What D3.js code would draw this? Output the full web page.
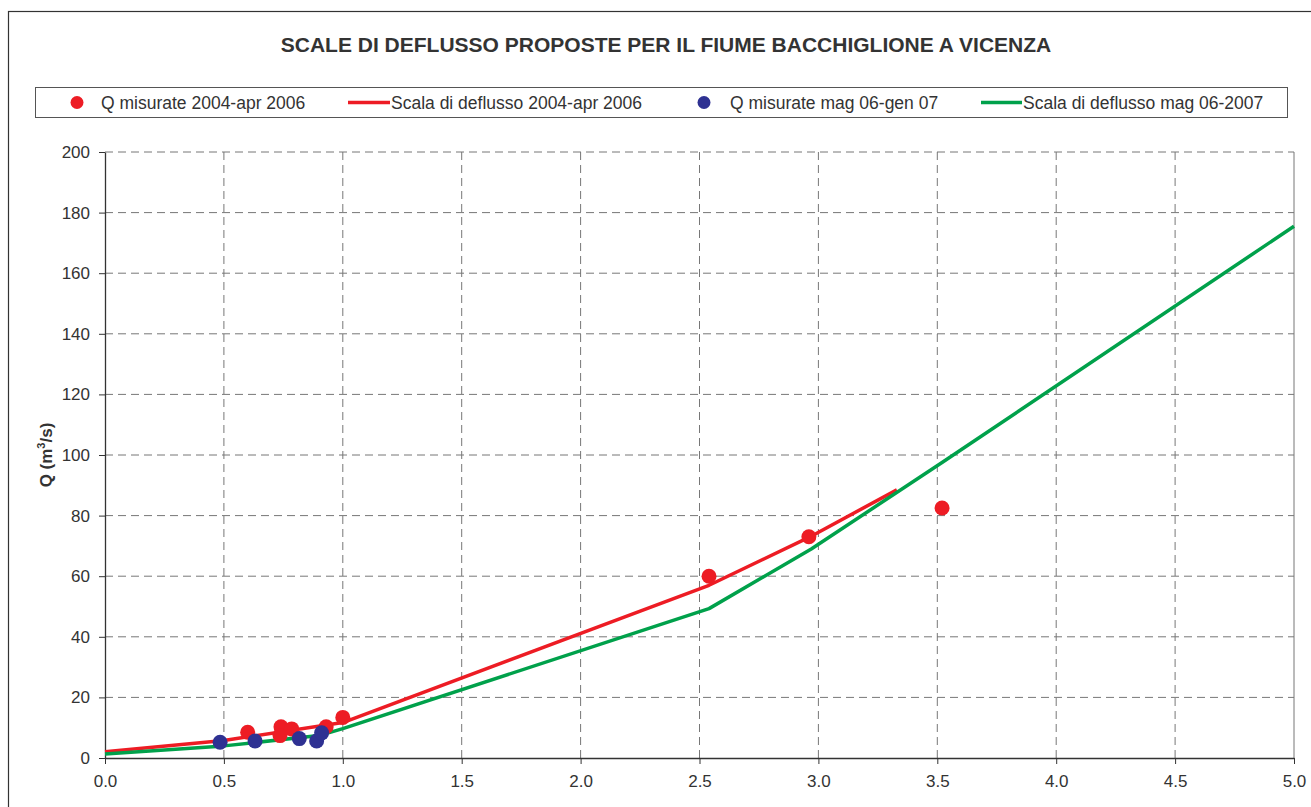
<!DOCTYPE html>
<html>
<head>
<meta charset="utf-8">
<script src="https://cdn.jsdelivr.net/npm/d3@7"></script>
<style>
  html, body { margin: 0; padding: 0; background: #fff; }
  svg { display: block; font-family: "Liberation Sans", Arial, sans-serif; }
</style>
</head>
<body>
<svg id="chart" width="1311" height="807"></svg>
<script>
// Measured discharges, 2004 – April 2006 (stage h [m], discharge Q [m3/s])
const redH = [0.60, 0.74, 0.785, 0.736, 0.93, 1.00, 2.54, 2.96, 3.52];
const redQ = [8.5, 10.3, 9.6, 7.4, 10.3, 13.4, 60.0, 73.0, 82.5];

// Measured discharges, May 2006 – January 2007
const blueH = [0.484, 0.631, 0.817, 0.890, 0.911];
const blueQ = [5.2, 5.6, 6.4, 5.6, 8.3];

// Rating curve 2004 – April 2006
const redCurveH = [0.0, 0.5, 1.0, 2.54, 2.96, 3.33];
const redCurveQ = [2.1, 5.8, 11.7, 57.0, 72.8, 88.5];

// Rating curve May 2006 – 2007
const greenCurveH = [0.0, 0.5, 0.9, 1.0, 2.54, 2.97, 3.52, 5.0];
const greenCurveQ = [1.3, 4.0, 7.4, 9.7, 49.3, 69.0, 97.5, 175.5];

const xTicks = [0.0, 0.5, 1.0, 1.5, 2.0, 2.5, 3.0, 3.5, 4.0, 4.5, 5.0];
const yTicks = [0, 20, 40, 60, 80, 100, 120, 140, 160, 180, 200];

const titleText = "SCALE DI DEFLUSSO PROPOSTE PER IL FIUME BACCHIGLIONE A VICENZA";
const legendLabels = [
  "Q misurate 2004-apr 2006",
  "Scala di deflusso 2004-apr 2006",
  "Q misurate mag 06-gen 07",
  "Scala di deflusso mag 06-2007"
];

const RED = "#ed1c24", BLUE = "#2e3192", GREEN = "#00a14b";
const TXT = "#333";

const svg = d3.select("#chart");

// outer chart frame
svg.append("rect")
  .attr("x", 8.5).attr("y", 11.5)
  .attr("width", 1320).attr("height", 820)
  .attr("fill", "none").attr("stroke", "#333").attr("stroke-width", 1.2);

// title
svg.append("text")
  .attr("x", 666).attr("y", 52)
  .attr("text-anchor", "middle")
  .attr("font-size", 21).attr("font-weight", "bold")
  .attr("fill", TXT)
  .text(titleText);

// plot area
const plot = { left: 105, right: 1294, top: 152, bottom: 758 };
const x = d3.scaleLinear().domain([0, 5]).range([plot.left, plot.right]);
const y = d3.scaleLinear().domain([0, 200]).range([plot.bottom, plot.top]);

// grid
const grid = svg.append("g");
grid.selectAll("line.gx").data(xTicks.slice(1, -1)).join("line")
  .attr("x1", d => x(d)).attr("x2", d => x(d))
  .attr("y1", plot.top).attr("y2", plot.bottom)
  .attr("stroke", "#777").attr("stroke-width", 1).attr("stroke-dasharray", "8,5");
grid.selectAll("line.gy").data(yTicks.slice(1)).join("line")
  .attr("x1", plot.left).attr("x2", plot.right)
  .attr("y1", d => y(d)).attr("y2", d => y(d))
  .attr("stroke", "#777").attr("stroke-width", 1).attr("stroke-dasharray", "8,5");

// right border of plot area
svg.append("line")
  .attr("x1", plot.right).attr("x2", plot.right)
  .attr("y1", plot.top).attr("y2", plot.bottom)
  .attr("stroke", "#777").attr("stroke-width", 1);

// axes
const xAxis = d3.axisBottom(x).tickValues(xTicks).tickFormat(d3.format(".1f"))
  .tickSizeInner(6).tickSizeOuter(0).tickPadding(11);
const yAxis = d3.axisLeft(y).tickValues(yTicks).tickFormat(d3.format("d"))
  .tickSizeInner(6).tickSizeOuter(0).tickPadding(9);

const gx = svg.append("g").attr("transform", `translate(0,${plot.bottom})`).call(xAxis);
const gy = svg.append("g").attr("transform", `translate(${plot.left},0)`).call(yAxis);
[gx, gy].forEach(g => {
  g.select(".domain").attr("stroke", "#333").attr("stroke-width", 1.3);
  g.selectAll(".tick line").attr("stroke", "#333");
  g.selectAll(".tick text").attr("fill", TXT).attr("font-size", 17)
    .attr("font-family", "'Liberation Sans', Arial, sans-serif");
});

// y axis title
const yTitle = svg.append("text")
  .attr("transform", "translate(52,455) rotate(-90)")
  .attr("text-anchor", "middle")
  .attr("font-size", 17).attr("font-weight", "bold").attr("fill", TXT);
yTitle.append("tspan").text("Q (m");
yTitle.append("tspan").attr("dy", -7).attr("font-size", 11).text("3");
yTitle.append("tspan").attr("dy", 7).text("/s)");

// rating curves
const line = d3.line().x(d => x(d[0])).y(d => y(d[1]));
const redCurve = redCurveH.map((h, i) => [h, redCurveQ[i]]);
const greenCurve = greenCurveH.map((h, i) => [h, greenCurveQ[i]]);

svg.append("path").datum(redCurve).attr("d", line)
  .attr("fill", "none").attr("stroke", RED).attr("stroke-width", 3.5)
  .attr("stroke-linejoin", "round");
svg.append("path").datum(greenCurve).attr("d", line)
  .attr("fill", "none").attr("stroke", GREEN).attr("stroke-width", 3.5)
  .attr("stroke-linejoin", "round");

// measured points
svg.append("g").selectAll("circle")
  .data(redH.map((h, i) => [h, redQ[i]])).join("circle")
  .attr("cx", d => x(d[0])).attr("cy", d => y(d[1])).attr("r", 7.5)
  .attr("fill", RED);
svg.append("g").selectAll("circle")
  .data(blueH.map((h, i) => [h, blueQ[i]])).join("circle")
  .attr("cx", d => x(d[0])).attr("cy", d => y(d[1])).attr("r", 7.5)
  .attr("fill", BLUE);

// legend
const lg = svg.append("g");
lg.append("rect")
  .attr("x", 35.5).attr("y", 87.5).attr("width", 1252).attr("height", 30)
  .attr("fill", "#fff").attr("stroke", "#555").attr("stroke-width", 1);
const legendItems = [
  { kind: "dot", color: RED, mx: 77, tx: 100 },
  { kind: "line", color: RED, mx: 348, tx: 390 },
  { kind: "dot", color: BLUE, mx: 704, tx: 729 },
  { kind: "line", color: GREEN, mx: 981, tx: 1022 }
];
legendItems.forEach((it, i) => {
  if (it.kind === "dot") {
    lg.append("circle").attr("cx", it.mx).attr("cy", 102.5).attr("r", 6.5).attr("fill", it.color);
  } else {
    lg.append("line").attr("x1", it.mx).attr("x2", it.tx).attr("y1", 102.5).attr("y2", 102.5)
      .attr("stroke", it.color).attr("stroke-width", 3.5);
  }
  lg.append("text").attr("x", it.tx + 1).attr("y", 108.5)
    .attr("font-size", 17.5).attr("fill", TXT).text(legendLabels[i]);
});
</script>
</body>
</html>
